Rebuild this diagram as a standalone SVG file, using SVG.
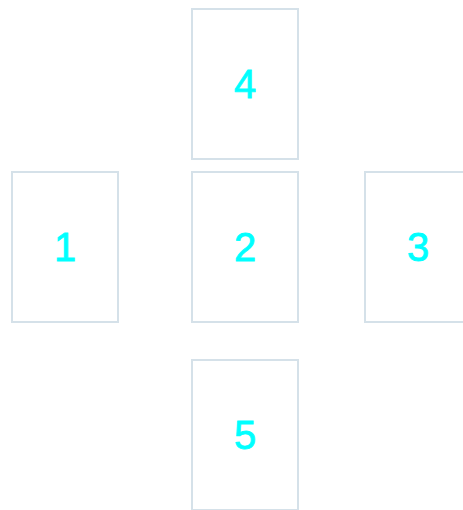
<svg xmlns="http://www.w3.org/2000/svg" width="463" height="510" viewBox="0 0 463 510">
<style>
.box{fill:#ffffff;stroke:#d5e1e9;stroke-width:2}
.lbl{fill:#00ffff;stroke:#00ffff;stroke-width:0.8;font-family:"Liberation Sans",Arial,sans-serif;font-size:40px;text-anchor:middle}
</style>
<rect width="463" height="510" fill="#ffffff"/>
<g id="connectors"></g>
<g id="node4"><rect class="box" x="192" y="9" width="106" height="150"/><text class="lbl" x="245" y="98">4</text></g>
<g id="node1"><rect class="box" x="12" y="172" width="106" height="150"/><text class="lbl" x="65" y="261">1</text></g>
<g id="node2"><rect class="box" x="192" y="172" width="106" height="150"/><text class="lbl" x="245" y="261">2</text></g>
<g id="node3"><rect class="box" x="365" y="172" width="106" height="150"/><text class="lbl" x="418" y="261">3</text></g>
<g id="node5"><rect class="box" x="192" y="360" width="106" height="150"/><text class="lbl" x="245" y="449">5</text></g>
</svg>
